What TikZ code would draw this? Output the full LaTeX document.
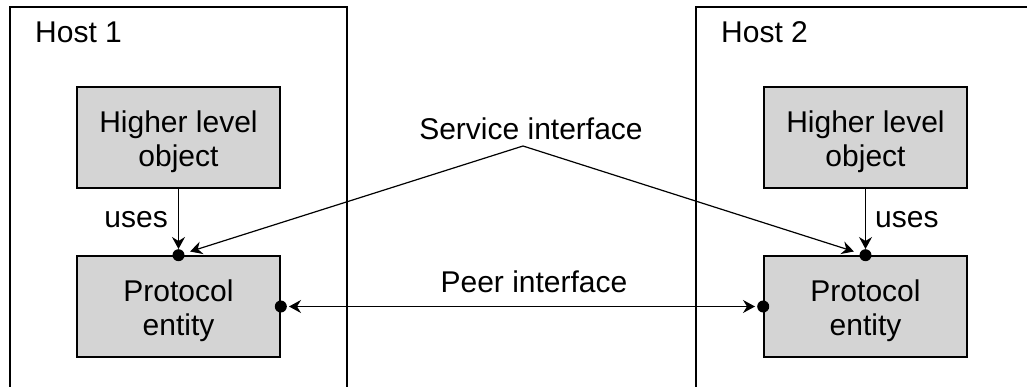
\documentclass[tikz,border=0pt]{standalone}
\usepackage{fontspec}
\setmainfont{Liberation Sans}
\usetikzlibrary{arrows.meta}
\begin{document}
\begin{tikzpicture}[x=1pt,y=-1pt,
  txt/.style={font=\fontsize{30}{34}\selectfont, inner sep=0pt},
  objbox/.style={draw=black, line width=1.6pt, fill=black!17, minimum width=203pt,
    minimum height=101pt, inner sep=0pt, align=center, font=\fontsize{30}{34}\selectfont},
  hostframe/.style={draw=black, line width=1.2pt},
  dot/.style={circle, fill=black, minimum size=12pt, inner sep=0pt},
  tip/.tip={Stealth[length=12pt,width=13pt,inset=4pt]},
  link/.style={line width=1.2pt, -tip},
  plink/.style={line width=1.2pt, tip-tip}
]
\useasboundingbox (0,0) rectangle (1027,387);

% host frames, open at the bottom
\draw[hostframe] (10,390) -- (10,7) -- (347,7) -- (347,390);
\draw[hostframe] (696,390) -- (696,7) -- (1030,7);
\node[txt, anchor=base west] (host1) at (35,43) {Host 1};
\node[txt, anchor=base west] (host2) at (721,43) {Host 2};

% objects and protocol entities (the strut lowers the two lines a little)
\node[objbox] (hlo1) at (178.5,137.5) {\rule{0pt}{30pt}Higher level\\object};
\node[objbox] (pe1)  at (178.5,306.5) {\rule{0pt}{30pt}Protocol\\entity};
\node[objbox] (hlo2) at (865.5,137.5) {\rule{0pt}{30pt}Higher level\\object};
\node[objbox] (pe2)  at (865.5,306.5) {\rule{0pt}{30pt}Protocol\\entity};

% interface points
\node[dot] (d1t) at (pe1.north) {};
\node[dot] (d1r) at (pe1.east) {};
\node[dot] (d2t) at (pe2.north) {};
\node[dot] (d2l) at (pe2.west) {};

% uses
\draw[link] (hlo1) -- (d1t);
\draw[link] (hlo2) -- (d2t);
\node[txt, anchor=base east] (uses1) at (168,228) {uses};
\node[txt, anchor=base west] (uses2) at (875,228) {uses};

% service interface
\node[txt, anchor=base] (svc) at (531,140) {Service interface};
\coordinate (apex) at (523,146);
\draw[link, shorten >=6pt] (apex) -- (d1t);
\draw[link, shorten >=6pt] (apex) -- (d2t);

% peer interface
\node[txt, anchor=base] (peer) at (534,292) {Peer interface};
\draw[plink, shorten >=2pt, shorten <=2pt] (d1r) -- (d2l);
\end{tikzpicture}
\end{document}
